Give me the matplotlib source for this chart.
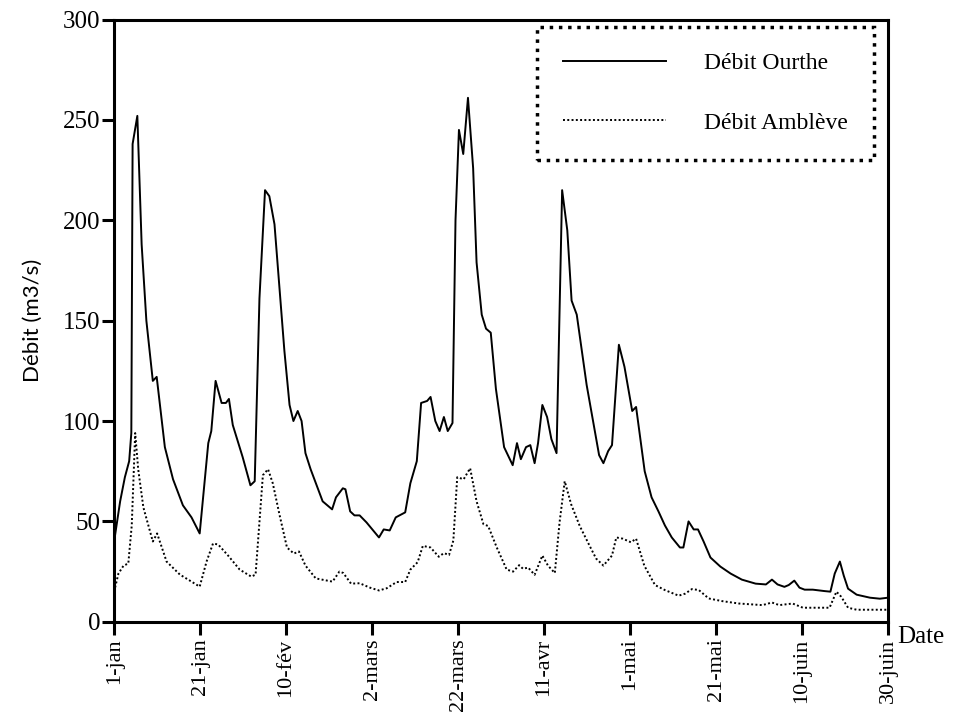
import matplotlib
matplotlib.use("Agg")
import matplotlib.pyplot as plt

# jours depuis le 1er janvier, et débits (m3/s)
jours_ourthe = [0, 1.4, 2.5, 3.5, 4.0, 4.3, 5.4, 6.4, 7.5, 9.0, 9.9, 11.8, 13.7, 16, 18, 19.9,
                21.9, 22.6, 23.6, 25, 26, 26.7, 27.6, 29.9, 31.7, 32.7, 33.8, 35.1, 36.1, 37.3,
                38.5, 39.6, 40.8, 41.7, 42.7, 43.6, 44.5, 45.7, 48.5, 50.7, 51.6, 53.2, 53.8,
                54.9, 55.9, 57.1, 58.7, 61.6, 62.7, 64.1, 65.5, 67.7, 68.9, 70.4, 71.4, 72.8,
                73.6, 74.7, 75.7, 76.7, 77.6, 78.7, 79.4, 80.2, 81.2, 82.3, 83.5, 84.3, 85.5,
                86.5, 87.6, 88.8, 90.7, 92.7, 93.7, 94.6, 95.8, 96.8, 97.8, 98.6, 99.6, 100.7,
                101.7, 102.9, 104.2, 105.4, 106.4, 107.6, 109.9, 111.4, 112.8, 113.8, 114.9,
                115.8, 117.4, 118.7, 120.5, 121.4, 123.4, 125, 126.6, 128.1, 129.7, 131.6,
                132.4, 133.6, 134.8, 135.8, 137.1, 138.7, 141, 143.4, 146, 149.2, 151.6, 153,
                154.3, 155.9, 156.9, 158.2, 159.4, 160.6, 162.5, 165.2, 166.6, 167.6, 168.8,
                169.7, 170.7, 172.7, 175.8, 178.1, 180]
debit_ourthe = [40, 60, 72, 80, 94, 238, 252, 188, 150, 120, 122, 87, 71, 58, 52, 44,
                89, 95, 120, 109, 109, 111, 98, 82, 68, 70, 161, 215, 212, 198,
                165, 135, 108, 100, 105, 100, 84, 76, 60, 56, 62, 66.5, 66,
                55, 53, 53, 49.5, 42, 46, 45.5, 52, 54.5, 69, 80, 109, 110,
                112, 100, 95, 102, 95, 99, 200, 245, 233, 261, 226, 179, 153,
                146, 144, 116, 87, 78, 89, 81, 87, 88, 79, 89, 108, 102,
                91, 84, 215, 195, 160, 153, 118, 100, 83, 79, 85,
                88, 138, 127, 105, 107, 75, 62, 55, 48, 42, 37,
                37, 50, 46, 46, 40, 32, 27.5, 24, 21, 19, 18.6, 21,
                18.6, 17.4, 18.3, 20.5, 17, 16, 16, 15.3, 15, 24, 30,
                23, 16.5, 13.5, 12, 11.5, 12]

jours_ambleve = [0, 1, 2.2, 3.3, 4.1, 4.9, 5.6, 6.8, 9, 10, 12.2, 15.3, 18, 19.9, 21.5, 23,
                 24.2, 26.5, 29.2, 31.9, 32.9, 34.6, 35.8, 36.9, 38.5, 40.2, 41.8, 43, 44.5,
                 46.9, 50.8, 52.4, 53.3, 55.1, 57.1, 59.5, 61.6, 63.4, 65.7, 67.7, 68.9, 70.6,
                 71.8, 73.6, 75.5, 76.7, 77.9, 78.9, 79.8, 81.3, 82.8, 84.3, 85.9, 87, 89,
                 91.3, 92.8, 94.2, 95.1, 96.3, 97.8, 99.6, 100.9, 102.5, 103.6, 104.8, 106.3,
                 108.3, 110.6, 112.1, 113.8, 115.8, 116.8, 118.3, 120.2, 121.4, 123.3, 125.8,
                 128.1, 131.3, 132.8, 134.4, 136, 138.3, 141.4, 145.3, 150.8, 153, 154.7,
                 157.8, 160.2, 166.4, 168, 169.1, 170.7, 172.7, 180]
debit_ambleve = [15, 24, 28, 29, 48, 94, 76, 57, 40, 44, 30, 23.5, 20, 17.5, 30, 39,
                 38.5, 33, 26, 22.5, 23.5, 73, 76, 69, 53, 37, 34, 35, 28,
                 21.6, 20, 25, 24.3, 19, 19.2, 17, 15.6, 16.7, 19.8, 19.8, 26, 29.7,
                 37.8, 37, 32.4, 34.2, 33.3, 40.5, 72, 71, 76.5, 60, 48.6, 47.7, 37,
                 26, 25, 28.2, 26.4, 27, 23.4, 33, 28, 24.3, 49.5, 70, 58.5,
                 47.7, 37.8, 31.5, 28, 33, 42, 41.4, 39.6, 41.4, 28, 18.3,
                 15.8, 13, 14, 16.3, 15.8, 11.6, 10.3, 9.1, 8.3, 9.6, 8.3,
                 9.1, 7, 7, 15, 12.5, 7, 6, 6]

tick_jours = [0, 20, 40, 60, 80, 100, 120, 140, 160, 180]
tick_labels = ["1-jan", "21-jan", "10-fév", "2-mars", "22-mars", "11-avr",
               "1-mai", "21-mai", "10-juin", "30-juin"]

serif = "Liberation Serif"

fig = plt.figure(figsize=(9.59, 7.23), dpi=100)
ax = fig.add_axes([0.119, 0.14, 0.807, 0.833])

ax.plot(jours_ourthe, debit_ourthe, color="black", lw=1.4, label="Débit Ourthe")
ax.plot(jours_ambleve, debit_ambleve, color="black", lw=1.4, ls=(0, (1, 1.2)),
        label="Débit Amblève")

ax.set_xlim(0, 180)
ax.set_ylim(0, 300)
ax.set_xticks(tick_jours)
ax.set_xticklabels(tick_labels, rotation=90, fontfamily=serif, fontsize=16)
ax.set_yticks([0, 50, 100, 150, 200, 250, 300])
for lab in ax.get_yticklabels():
    lab.set_fontfamily(serif)
    lab.set_fontsize(18)
ax.tick_params(axis="both", direction="out", length=9, width=2.2, pad=3)
ax.tick_params(axis="y", pad=1)

for s in ax.spines.values():
    s.set_linewidth(2.2)

ax.set_ylabel("Débit (m3/s)", fontfamily="Lato", fontsize=16, labelpad=14)
ax.text(1.012, -0.025, "Date", transform=ax.transAxes, fontfamily=serif,
        fontsize=18, ha="left", va="center")

leg = ax.legend(loc="upper right", bbox_to_anchor=(0.982, 0.988),
                prop={"family": serif, "size": 17}, handlelength=4.4,
                handletextpad=1.6, borderpad=1.1, labelspacing=1.6,
                fancybox=False, framealpha=1, borderaxespad=0)
frame = leg.get_frame()
frame.set_edgecolor("black")
frame.set_linewidth(2.5)
frame.set_linestyle(":")

fig.savefig("out.png", dpi=100)
